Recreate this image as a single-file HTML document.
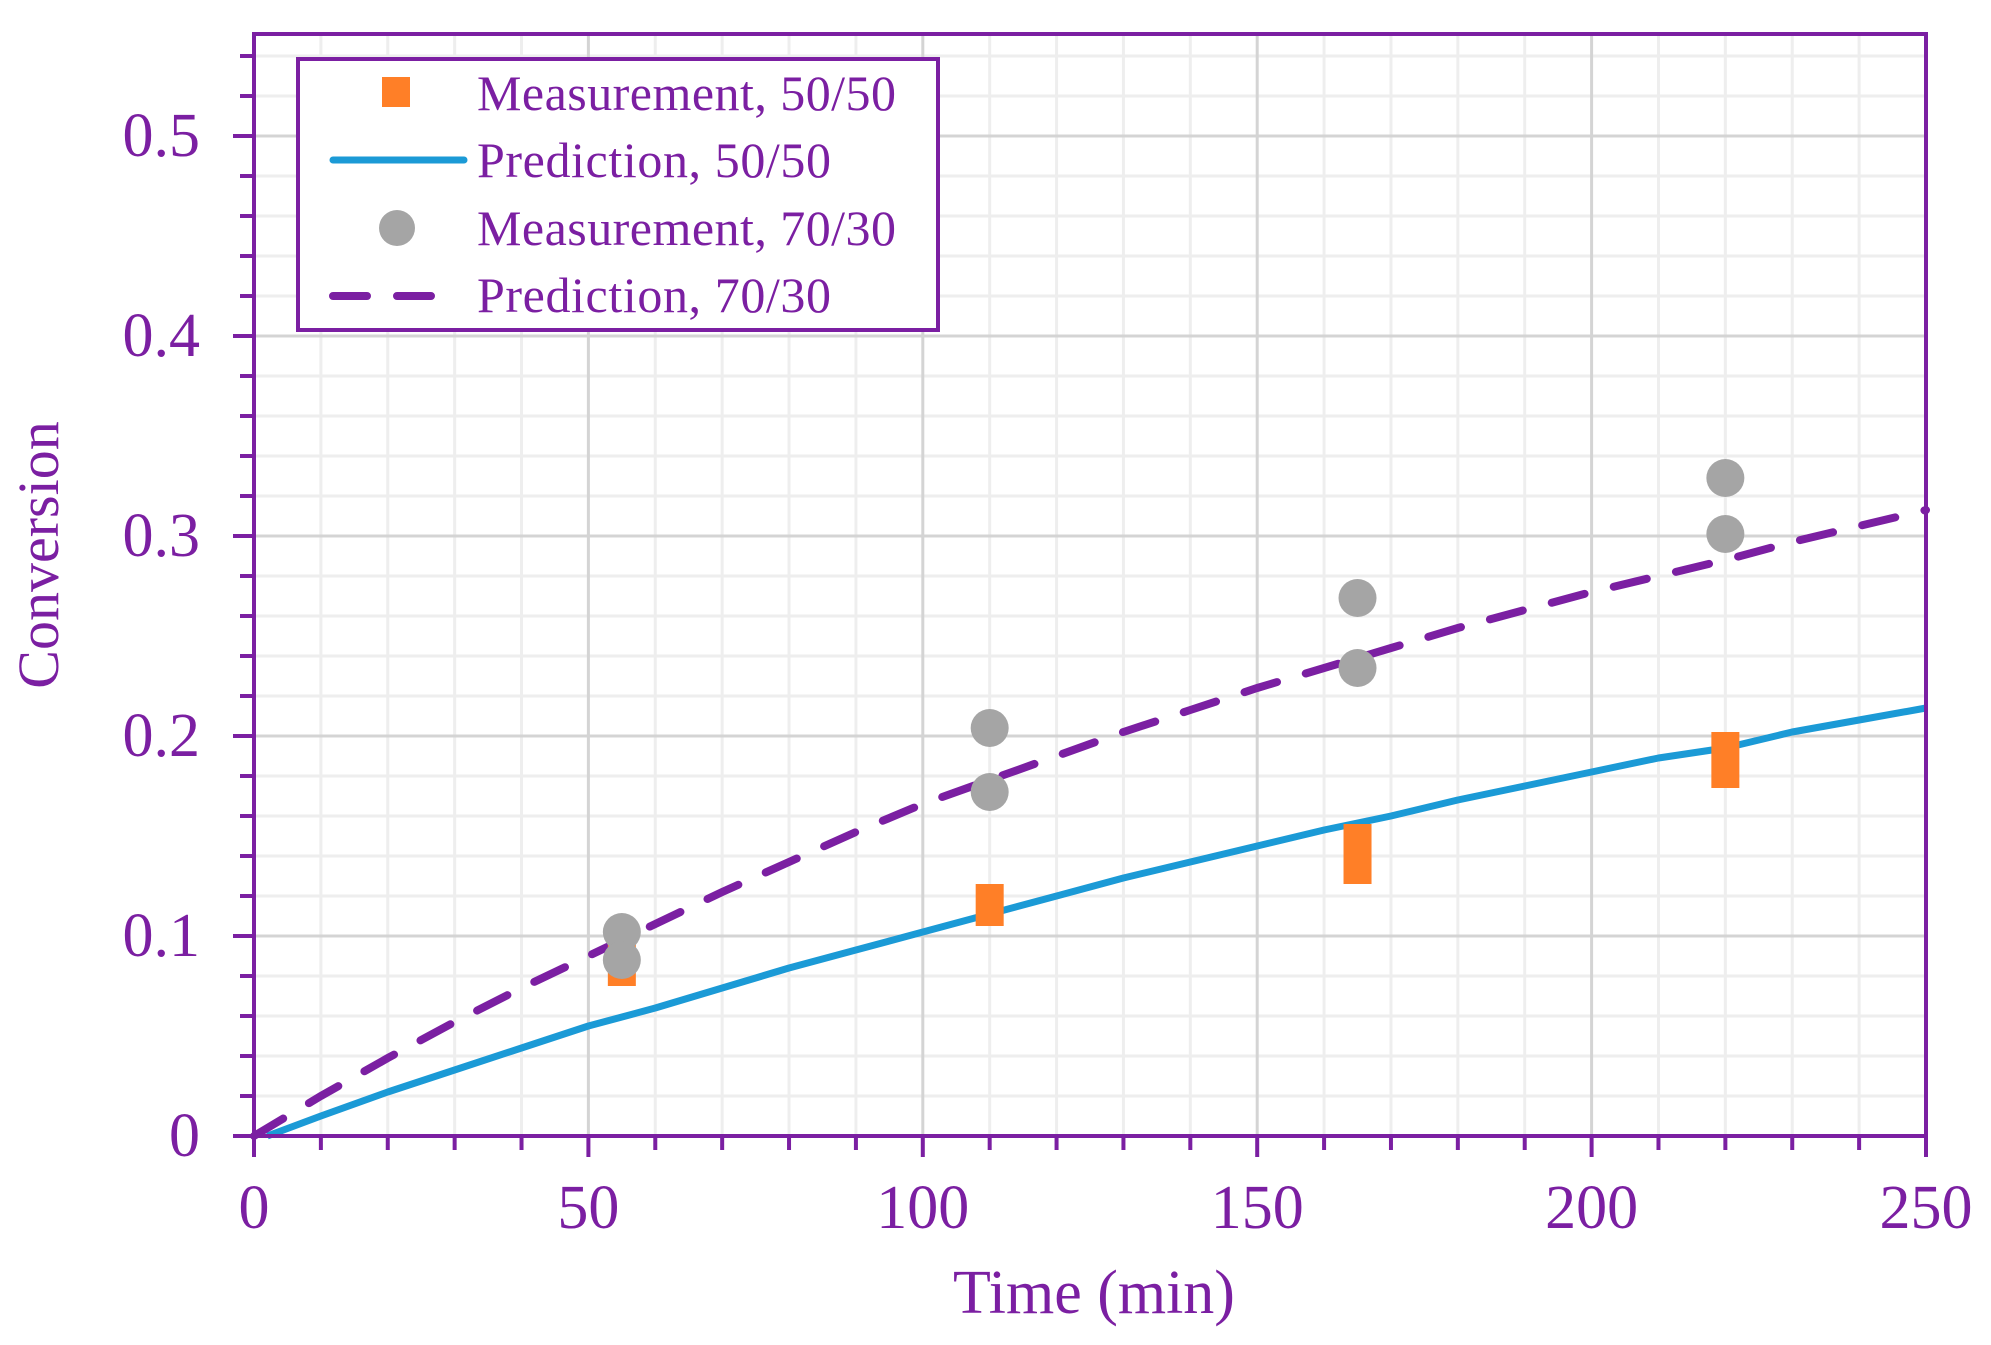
<!DOCTYPE html>
<html><head><meta charset="utf-8"><style>html,body{margin:0;padding:0;background:#fff}svg{display:block}</style></head>
<body>
<svg id="s" width="1991" height="1345" xmlns="http://www.w3.org/2000/svg" font-family="Liberation Serif, serif" fill="#7B1FA2">
<g id="grid"></g>
<g id="data"></g>
<g id="axes"></g>
<g id="labels" fill="#7B1FA2" font-size="62"></g>
<text x="1094" y="1313" font-size="62" text-anchor="middle" fill="#7B1FA2">Time (min)</text>
<text transform="translate(58,555) rotate(-90)" font-size="58" text-anchor="middle" fill="#7B1FA2">Conversion</text>
<g id="legend">
<rect x="298" y="59" width="640" height="271" fill="#fff" stroke="#7B1FA2" stroke-width="4"/>
<rect x="382" y="77" width="28" height="30" fill="#FF7F27"/>
<line x1="333" y1="160" x2="464" y2="160" stroke="#1B9AD6" stroke-width="7" stroke-linecap="round"/>
<circle cx="397" cy="228" r="18" fill="#A5A5A5"/>
<line x1="333" y1="296" x2="437" y2="296" stroke="#7B1FA2" stroke-width="8" stroke-dasharray="34,30" stroke-linecap="round"/>
<text x="477" y="110" font-size="50" textLength="419">Measurement, 50/50</text>
<text x="477" y="177" font-size="50" textLength="354">Prediction, 50/50</text>
<text x="477" y="245" font-size="50" textLength="419">Measurement, 70/30</text>
<text x="477" y="312" font-size="50" textLength="354">Prediction, 70/30</text>
</g>
</svg>
<script>
const L=254,R=1926,T=34,B=1136;
const X=t=>L+t*(R-L)/250, Y=v=>B-v*2000;
const ns="http://www.w3.org/2000/svg";
function el(p,tag,a){const e=document.createElementNS(ns,tag);for(const k in a)e.setAttribute(k,a[k]);p.appendChild(e);return e;}
const g=document.getElementById('grid');
for(let t=10;t<250;t+=10){if(t%50)el(g,'line',{x1:X(t),x2:X(t),y1:T,y2:B,stroke:'#eeeeee','stroke-width':3});}
for(let i=1;i<=27;i++){const v=i*0.02;if(i%5)el(g,'line',{x1:L,x2:R,y1:Y(v),y2:Y(v),stroke:'#eeeeee','stroke-width':3});}
for(let t=50;t<250;t+=50)el(g,'line',{x1:X(t),x2:X(t),y1:T,y2:B,stroke:'#d4d4d4','stroke-width':3});
for(let i=1;i<=5;i++)el(g,'line',{x1:L,x2:R,y1:Y(i/10),y2:Y(i/10),stroke:'#d4d4d4','stroke-width':3});
const d=document.getElementById('data');
// lines
const blue=[[2,0],[10,0.01],[20,0.022],[30,0.033],[40,0.044],[50,0.055],[60,0.064],[70,0.074],[80,0.084],[90,0.093],[100,0.102],[110,0.111],[120,0.12],[130,0.129],[140,0.137],[150,0.145],[160,0.153],[170,0.16],[180,0.168],[190,0.175],[200,0.182],[210,0.189],[220,0.194],[230,0.202],[240,0.208],[250,0.214]];
const pur=[[0,0],[10,0.02],[20,0.039],[30,0.057],[40,0.074],[50,0.09],[60,0.106],[70,0.122],[80,0.137],[90,0.152],[100,0.166],[110,0.178],[120,0.19],[130,0.202],[140,0.213],[150,0.224],[160,0.234],[170,0.244],[180,0.254],[190,0.263],[200,0.272],[210,0.28],[220,0.288],[230,0.297],[240,0.305],[250,0.313]];
const pts=a=>a.map(p=>X(p[0]).toFixed(1)+','+Y(p[1]).toFixed(1)).join(' ');
el(d,'polyline',{points:pts(blue),fill:'none',stroke:'#1B9AD6','stroke-width':7,'stroke-linejoin':'round'});
el(d,'polyline',{points:pts(pur),fill:'none',stroke:'#7B1FA2','stroke-width':8,'stroke-dasharray':'34,30','stroke-linecap':'round'});
const sq=[[55,0.079,0.092],[110,0.109,0.122],[165,0.13,0.152],[220,0.178,0.198]];
sq.forEach(s=>el(d,'rect',{x:X(s[0])-14,y:Y(s[2])-8,width:28,height:Y(s[1])-Y(s[2])+16,fill:'#FF7F27'}));
const ci=[[55,0.102],[55,0.088],[110,0.204],[110,0.172],[165,0.269],[165,0.234],[220,0.329],[220,0.301]];
ci.forEach(c=>el(d,'circle',{cx:X(c[0]),cy:Y(c[1]),r:19,fill:'#A5A5A5'}));
const a=document.getElementById('axes');
el(a,'rect',{x:L,y:T,width:R-L,height:B-T,fill:'none',stroke:'#7B1FA2','stroke-width':4});
for(let t=0;t<=250;t+=10){el(a,'line',{x1:X(t),x2:X(t),y1:B,y2:B+(t%50?14:21),stroke:'#7B1FA2','stroke-width':4});}
for(let i=0;i<=27;i++){el(a,'line',{x1:L,x2:L-(i%5?14:21),y1:Y(i*0.02),y2:Y(i*0.02),stroke:'#7B1FA2','stroke-width':4});}
const lb=document.getElementById('labels');
for(let t=0;t<=250;t+=50){const e=el(lb,'text',{x:X(t),y:1228,'text-anchor':'middle'});e.textContent=t;}
for(let i=0;i<=5;i++){const e=el(lb,'text',{x:200,y:Y(i/10)+20,'text-anchor':'end'});e.textContent=i?('0.'+i):'0';}
</script>
</body></html>
